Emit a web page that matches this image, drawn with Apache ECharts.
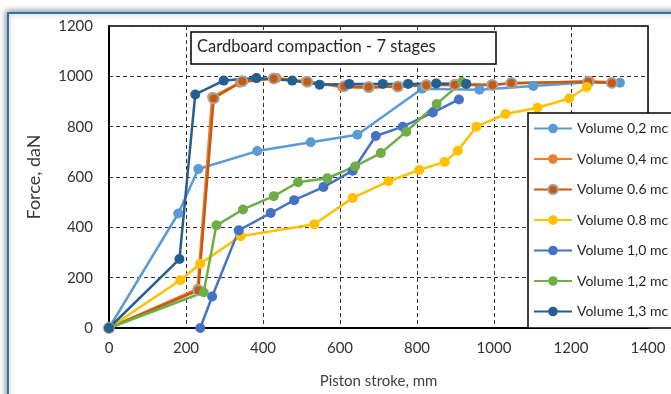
<!DOCTYPE html>
<html>
<head>
<meta charset="utf-8">
<style>
	html, body { margin: 0; padding: 0; background: #fff; }
	#chart { width: 671px; height: 394px; }
</style>
<script src="https://cdn.jsdelivr.net/npm/echarts@6/dist/echarts.min.js"></script>
</head>
<body>
<div id="chart"></div>
<script>
	// [stroke mm, force daN]
	var vol02 = [[0,0],[180,455],[232,632],[385,703],[524,738],[645,768],[813,951],[962,947],[1102,962],[1245,976],[1327,975]];
	var vol04 = [[0,0],[230,155],[268,918],[340,975],[435,993],[511,980],[606,957],[676,954],[752,962],[826,968],[900,969],[993,967],[1048,972],[1249,980],[1306,976]];
	var vol06 = [[0,0],[232,150],[272,913],[346,980],[428,991],[515,978],[611,961],[674,958],[750,960],[824,965],[898,967],[996,966],[1045,974],[1245,978],[1306,974]];
	var vol08 = [[0,0],[185,190],[237,255],[342,365],[533,412],[633,517],[726,583],[806,628],[872,660],[906,704],[954,800],[1030,850],[1113,875],[1195,912],[1241,958]];
	var vol10 = [[237,0],[268,125],[337,388],[420,457],[481,508],[557,560],[633,625],[693,763],[763,800],[841,856],[909,908]];
	var vol12 = [[0,0],[246,142],[279,408],[348,471],[428,524],[491,579],[567,595],[639,642],[706,695],[772,780],[851,890],[917,977]];
	var vol13 = [[0,0],[183,274],[224,928],[298,983],[383,993],[476,983],[547,967],[624,970],[711,970],[777,970],[850,972],[928,970]];

	var seriesNames = ['Volume 0,2 mc','Volume 0,4 mc','Volume 0.6 mc','Volume 0.8 mc','Volume 1,0 mc','Volume 1,2 mc','Volume 1,3 mc'];
	var seriesColors = ['#5B9BD5','#ED7D31','#C55A11','#FFC000','#4472C4','#70AD47','#255E91'];
	var seriesData = [vol02, vol04, vol06, vol08, vol10, vol12, vol13];
	var chartTitle = 'Cardboard compaction - 7 stages';

	var font = 'Lato, "Open Sans", sans-serif';
	var txt = '#404040';
	var plain = function(v){ return String(v); };

	var series = seriesData.map(function(d, i){
		var s = {
			name: seriesNames[i],
			type: 'line',
			data: d,
			symbol: 'circle',
			symbolSize: 10,
			color: seriesColors[i],
			lineStyle: { width: 2.5, color: seriesColors[i] },
			itemStyle: { color: seriesColors[i] },
			animation: false
		};
		if (i == 2) {
			s.itemStyle = { color: seriesColors[i], borderColor: '#A5A5A5', borderWidth: 2 }; // gray ring
		}
		return s;
	});

	var chart = echarts.init(document.getElementById('chart'));
	chart.setOption({
		animation: false,
		backgroundColor: '#fff',
		graphic: [{
			type: 'rect',
			z: -10,
			shape: { x: 8, y: 13, width: 720, height: 420 },
			style: { fill: '#fff', stroke: '#2E75B6', lineWidth: 2, shadowBlur: 6, shadowColor: 'rgba(0,0,0,0.45)', shadowOffsetX: -1, shadowOffsetY: -1 }
		}, {
			type: 'rect',
			z: 50,
			shape: { x: 191, y: 32, width: 305, height: 32 },
			style: { fill: '#fff', stroke: '#000', lineWidth: 1.5 }
		}, {
			type: 'text',
			z: 51,
			left: 197,
			top: 38,
			style: { text: chartTitle, fill: '#262626', font: '16.5px ' + font }
		}],
		legend: {
			orient: 'vertical',
			left: 528,
			top: 113,
			padding: [8, 10, 9, 5],
			itemGap: 15.5,
			itemWidth: 38,
			itemHeight: 12,
			backgroundColor: '#fff',
			borderColor: '#000',
			borderWidth: 1.5,
			textStyle: { color: '#262626', fontFamily: font, fontSize: 14, lineHeight: 15 },
			data: seriesNames
		},
		grid: {
			left: 109,
			top: 26,
			right: 23,
			bottom: 64,
			show: true,
			borderColor: '#000',
			borderWidth: 1.5
		},
		xAxis: {
			type: 'value',
			min: 0,
			max: 1400,
			interval: 200,
			name: 'Piston stroke, mm',
			nameLocation: 'middle',
			nameGap: 46,
			nameTextStyle: { color: txt, fontFamily: font, fontSize: 15 },
			axisLine: { show: true, lineStyle: { color: '#000', width: 2 } },
			axisTick: { show: false },
			axisLabel: { color: '#333', fontFamily: font, fontSize: 15, margin: 13, formatter: plain },
			splitLine: { show: true, lineStyle: { color: '#333', type: [4, 3], width: 1 } }
		},
		yAxis: {
			type: 'value',
			min: 0,
			max: 1200,
			interval: 200,
			name: 'Force, daN',
			nameLocation: 'middle',
			nameGap: 66,
			nameTextStyle: { color: '#3a3a3a', fontFamily: font, fontSize: 18 },
			axisLine: { show: true, lineStyle: { color: '#000', width: 2 } },
			axisTick: { show: false },
			axisLabel: { color: '#333', fontFamily: font, fontSize: 15, margin: 16, formatter: plain },
			splitLine: { show: true, lineStyle: { color: '#333', type: [4, 3], width: 1 } }
		},
		series: series
	});
</script>
</body>
</html>
